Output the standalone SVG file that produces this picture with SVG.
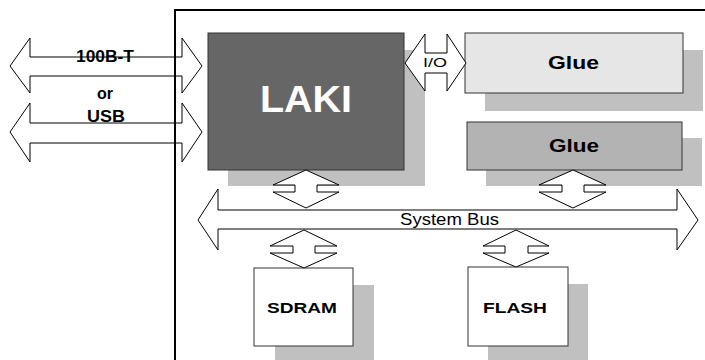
<svg xmlns="http://www.w3.org/2000/svg" width="705" height="360" viewBox="0 0 705 360">
<style>
.sh{fill:#c0c0c0;stroke:none}
.bx{stroke:#333;stroke-width:1}
.ar{fill:#fff;stroke:#000;stroke-width:1;stroke-linejoin:miter}
.t{font-family:"Liberation Sans",Arial,sans-serif;fill:#000}
.b{font-weight:bold}
</style>
<rect width="705" height="360" fill="#fff"/>
<g id="shadows">
<rect class="sh" x="228" y="50" width="197" height="136"/>
<rect class="sh" x="485" y="50" width="218" height="61"/>
<rect class="sh" x="486" y="138" width="216" height="48"/>
<rect class="sh" x="275" y="285" width="99" height="75"/>
<rect class="sh" x="488" y="284" width="100" height="76"/>
</g>
<g id="laki">
<rect class="bx" x="208" y="33" width="196" height="137" fill="#666"/>
<text class="t b" x="260" y="112" font-size="36" style="fill:#fff" textLength="92" lengthAdjust="spacingAndGlyphs">LAKI</text>
</g>
<g id="glue1">
<rect class="bx" x="465" y="33" width="218" height="60" fill="#e6e6e6"/>
<text class="t b" x="548" y="69" font-size="18" textLength="51" lengthAdjust="spacingAndGlyphs">Glue</text>
</g>
<g id="glue2">
<rect class="bx" x="467" y="122" width="215" height="48" fill="#b3b3b3"/>
<text class="t b" x="549" y="152" font-size="18" textLength="50" lengthAdjust="spacingAndGlyphs">Glue</text>
</g>
<g id="sdram">
<rect class="bx" x="254" y="268" width="99" height="78" fill="#fff"/>
<text class="t b" x="267" y="313" font-size="15.5" textLength="70" lengthAdjust="spacingAndGlyphs">SDRAM</text>
</g>
<g id="flash">
<rect class="bx" x="468" y="267" width="100" height="79" fill="#fff"/>
<text class="t b" x="483" y="313" font-size="15.5" textLength="64" lengthAdjust="spacingAndGlyphs">FLASH</text>
</g>
<g id="connectors">
<polygon class="ar" points="10,66 30,38 30,57 182,57 182,38 202,66 182,93 182,76 30,76 30,93"/>
<polygon class="ar" points="10,132 30,103 30,123 182,123 182,103 202,132 182,162 182,143 30,143 30,162"/>
<polygon class="ar" points="405,63 425,34 425,53 447,53 447,34 466,63 447,91 447,73 425,73 425,91"/>
<polygon class="ar" points="198,220 218,189 218,210 677,210 677,189 698,220 677,250 677,229 218,229 218,250"/>
<polygon class="ar" points="306,170 339,185 317,185 317,192 339,192 306,208 273,192 295,192 295,185 273,185"/>
<polygon class="ar" points="573,170 606,185 584,185 584,192 606,192 573,208 539,192 562,192 562,185 539,185"/>
<polygon class="ar" points="304,230 337,246 315,246 315,253 337,253 304,268 270,253 293,253 293,246 270,246"/>
<polygon class="ar" points="516,230 549,246 528,246 528,253 549,253 516,267 483,253 505,253 505,246 483,246"/>
<text class="t" x="423" y="67" font-size="13.5" textLength="24" lengthAdjust="spacingAndGlyphs">I/O</text>
<text class="t" x="400" y="225" font-size="17" textLength="99" lengthAdjust="spacingAndGlyphs">System Bus</text>
<text class="t b" x="76" y="62" font-size="16" textLength="58" lengthAdjust="spacingAndGlyphs">100B-T</text>
<text class="t b" x="97" y="99" font-size="16" textLength="16" lengthAdjust="spacingAndGlyphs">or</text>
<text class="t b" x="87" y="122" font-size="16" textLength="38" lengthAdjust="spacingAndGlyphs">USB</text>
</g>
<g id="frame">
<polyline points="175,360 175,10 705,10" fill="none" stroke="#000" stroke-width="2"/>
</g>
</svg>
